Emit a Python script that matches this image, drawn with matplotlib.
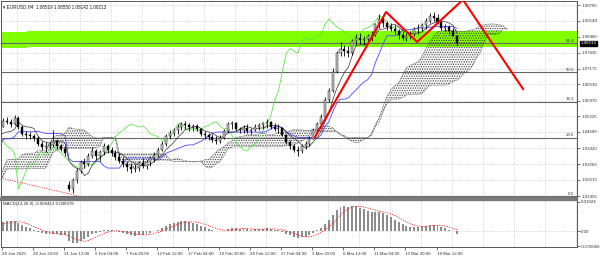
import numpy as np
import pandas as pd
import matplotlib
matplotlib.use('Agg')
import matplotlib.pyplot as plt
from matplotlib.patches import Rectangle

plt.rcParams['font.family'] = ['Liberation Sans', 'DejaVu Sans']
plt.rcParams['hatch.linewidth'] = 0.6

# EURUSD, candles merged two H4 bars each (8h); history before the window first
pre_high = [1.0395, 1.0380, 1.0365, 1.0365, 1.0350, 1.0330, 1.0325, 1.0320, 1.0315,
            1.0310, 1.0305, 1.0255, 1.0240, 1.0225, 1.0250, 1.0265, 1.0300, 1.0315,
            1.0315, 1.0320, 1.0310, 1.0300, 1.0310, 1.0305, 1.0300, 1.0290, 1.0285,
            1.0360, 1.0435, 1.0425, 1.0420, 1.0410, 1.0435, 1.0440, 1.0430, 1.0415,
            1.0420, 1.0425, 1.0420, 1.0490]
pre_low = [1.0345, 1.0340, 1.0335, 1.0330, 1.0310, 1.0300, 1.0295, 1.0290, 1.0295,
           1.0285, 1.0215, 1.0225, 1.0200, 1.0178, 1.0195, 1.0235, 1.0250, 1.0285,
           1.0280, 1.0270, 1.0280, 1.0275, 1.0280, 1.0285, 1.0265, 1.0255, 1.0260,
           1.0270, 1.0340, 1.0390, 1.0340, 1.0350, 1.0395, 1.0410, 1.0395, 1.0395,
           1.0390, 1.0395, 1.0400, 1.0410]
pre_close = [1.0360, 1.0350, 1.0355, 1.0345, 1.0320, 1.0315, 1.0305, 1.0310, 1.0300,
             1.0295, 1.0230, 1.0244, 1.0210, 1.0200, 1.0245, 1.0255, 1.0290, 1.0308,
             1.0290, 1.0300, 1.0290, 1.0290, 1.0295, 1.0300, 1.0275, 1.0270, 1.0272,
             1.0350, 1.0410, 1.0415, 1.0360, 1.0400, 1.0430, 1.0420, 1.0405, 1.0410,
             1.0405, 1.0410, 1.0414, 1.0480]

highs = [1.0515, 1.0520, 1.0510, 1.0528, 1.0525, 1.0485, 1.0460, 1.0458, 1.0450, 1.0440,
         1.0420, 1.0415, 1.0418, 1.0465, 1.0430, 1.0410, 1.0400, 1.0255, 1.0270, 1.0310,
         1.0345, 1.0350, 1.0370, 1.0395, 1.0390, 1.0385, 1.0412, 1.0410, 1.0395, 1.0385,
         1.0370, 1.0355, 1.0340, 1.0330, 1.0325, 1.0340, 1.0350, 1.0345, 1.0360, 1.0375,
         1.0395, 1.0420, 1.0450, 1.0465, 1.0475, 1.0490, 1.0500, 1.0505, 1.0495, 1.0490,
         1.0492, 1.0475, 1.0460, 1.0455, 1.0450, 1.0440, 1.0445, 1.0470, 1.0500, 1.0505,
         1.0500, 1.0480, 1.0485, 1.0490, 1.0475, 1.0490, 1.0495, 1.0500, 1.0510, 1.0505,
         1.0495, 1.0490, 1.0480, 1.0450, 1.0425, 1.0410, 1.0400, 1.0410, 1.0420, 1.0440,
         1.0475, 1.0500, 1.0530, 1.0600, 1.0640, 1.0720, 1.0790, 1.0825, 1.0815, 1.0810,
         1.0840, 1.0860, 1.0865, 1.0850, 1.0860, 1.0870, 1.0905, 1.0940, 1.0935, 1.0915,
         1.0905, 1.0895, 1.0880, 1.0870, 1.0865, 1.0870, 1.0890, 1.0900, 1.0905, 1.0925,
         1.0945, 1.0950, 1.0940, 1.0915, 1.0900, 1.0895, 1.0885, 1.08550]
lows = [1.0478, 1.0490, 1.0480, 1.0485, 1.0470, 1.0440, 1.0430, 1.0428, 1.0420, 1.0400,
        1.0385, 1.0375, 1.0388, 1.0395, 1.0390, 1.0380, 1.0360, 1.0215, 1.0208, 1.0250,
        1.0290, 1.0310, 1.0320, 1.0350, 1.0345, 1.0340, 1.0365, 1.0370, 1.0360, 1.0345,
        1.0330, 1.0315, 1.0300, 1.0290, 1.0292, 1.0300, 1.0310, 1.0305, 1.0320, 1.0335,
        1.0355, 1.0380, 1.0400, 1.0430, 1.0440, 1.0450, 1.0465, 1.0470, 1.0460, 1.0460,
        1.0462, 1.0440, 1.0430, 1.0425, 1.0415, 1.0410, 1.0412, 1.0430, 1.0455, 1.0470,
        1.0460, 1.0455, 1.0455, 1.0455, 1.0450, 1.0460, 1.0465, 1.0470, 1.0475, 1.0470,
        1.0460, 1.0455, 1.0440, 1.0410, 1.0390, 1.0375, 1.0360, 1.0370, 1.0390, 1.0400,
        1.0430, 1.0460, 1.0480, 1.0515, 1.0580, 1.0620, 1.0700, 1.0770, 1.0770, 1.0765,
        1.0775, 1.0815, 1.0820, 1.0815, 1.0820, 1.0830, 1.0850, 1.0885, 1.0890, 1.0875,
        1.0870, 1.0860, 1.0840, 1.0835, 1.0830, 1.0840, 1.0850, 1.0860, 1.0870, 1.0880,
        1.0905, 1.0915, 1.0900, 1.0875, 1.0870, 1.0860, 1.0850, 1.08142]
closes = [1.0505, 1.0498, 1.0490, 1.0515, 1.0478, 1.0450, 1.0445, 1.0440, 1.0432, 1.0410,
          1.0395, 1.0400, 1.0405, 1.0420, 1.0400, 1.0390, 1.0370, 1.0225, 1.0260, 1.0300,
          1.0335, 1.0325, 1.0360, 1.0380, 1.0360, 1.0375, 1.0400, 1.0385, 1.0370, 1.0355,
          1.0340, 1.0325, 1.0315, 1.0305, 1.0310, 1.0330, 1.0320, 1.0335, 1.0350, 1.0365,
          1.0385, 1.0410, 1.0440, 1.0455, 1.0465, 1.0480, 1.0490, 1.0485, 1.0478, 1.0482,
          1.0470, 1.0450, 1.0445, 1.0438, 1.0425, 1.0420, 1.0435, 1.0460, 1.0490, 1.0495,
          1.0470, 1.0465, 1.0475, 1.0462, 1.0468, 1.0480, 1.0485, 1.0495, 1.0500, 1.0480,
          1.0470, 1.0475, 1.0445, 1.0415, 1.0400, 1.0385, 1.0380, 1.0400, 1.0410, 1.0430,
          1.0465, 1.0490, 1.0520, 1.0590, 1.0625, 1.0705, 1.0780, 1.0800, 1.0790, 1.0780,
          1.0830, 1.0845, 1.0835, 1.0840, 1.0850, 1.0855, 1.0900, 1.0920, 1.0905, 1.0890,
          1.0880, 1.0870, 1.0855, 1.0845, 1.0850, 1.0860, 1.0880, 1.0885, 1.0895, 1.0915,
          1.0935, 1.0925, 1.0910, 1.0885, 1.0890, 1.0870, 1.08519, 1.08213]
gap_bar = 17          # Monday 3 Feb opened with a gap
gap_open = 1.0240

# axis texts
price_ticks = [1.09785, 1.09140, 1.08480, 1.07835, 1.07175, 1.06530, 1.05870,
               1.05225, 1.04580, 1.03920, 1.03260, 1.02615, 1.01955]
time_labels = ['24 Jan 2025', '28 Jan 20:00', '31 Jan 12:00', '5 Feb 04:00', '7 Feb 20:00',
               '12 Feb 12:00', '17 Feb 04:00', '19 Feb 20:00', '24 Feb 12:00', '27 Feb 04:00',
               '3 Mar 20:00', '6 Mar 12:00', '11 Mar 04:00', '13 Mar 20:00', '18 Mar 12:00']
macd_ticks = [0.01024, 0.0, -0.005066]
macd_tick_labels = ['0.01024', '0.00', '-0.005066']

# drawn objects (x in H4 bars from the first visible bar)
fib_low, fib_high = 1.01955, 1.12085
fib_levels = [0.0, 0.236, 0.382, 0.5, 0.618]
zone_x = [[-1, 12.8], [12.8, 300]]
zone_lo = [1.0804, 1.0808]
zone_hi = [1.0869, 1.0874]
zigzag_x = [161.3, 198.0, 214.0, 237.6, 268.6]
zigzag_p = [1.0437, 1.0950, 1.0827, 1.1000, 1.0634]
trend_x = [-1, 39.2]
trend_p = [1.0270, 1.0196]

# ---- build series
H = pd.Series(pre_high + highs)
L = pd.Series(pre_low + lows)
C = pd.Series(pre_close + closes)
n_pre = len(pre_high)
O = C.shift(1).fillna(C.iloc[0])
O.iloc[n_pre + gap_bar] = gap_open
xb = (np.arange(len(C)) - n_pre) * 2 + 0.5

tenkan = (H.rolling(5, min_periods=1).max() + L.rolling(5, min_periods=1).min()) / 2
kijun = (H.rolling(13, min_periods=1).max() + L.rolling(13, min_periods=1).min()) / 2
span_a = (tenkan + kijun) / 2
span_b = (H.rolling(26, min_periods=1).max() + L.rolling(26, min_periods=1).min()) / 2

ema_f = C.ewm(com=2.75, adjust=False).mean()
ema_s = C.ewm(com=6.25, adjust=False).mean()
macd = ema_f - ema_s
signal = macd.rolling(5, min_periods=1).mean()

# ---- figure
fig = plt.figure(figsize=(6, 2.58), dpi=100)
ax = fig.add_axes([1 / 600, 1 - 197 / 258, 576 / 600, 196 / 258])
am = fig.add_axes([1 / 600, 1 - 247 / 258, 576 / 600, 48 / 258])
xlim = (-0.5, 296.4)
grid_x = [8 + 16 * k for k in range(19)]
for a in (ax, am):
    a.set_xlim(*xlim)
    for s in a.spines.values():
        s.set_color('#555555')
        s.set_linewidth(0.7)
    for gx in grid_x:
        a.axvline(gx, color='#c8c8c8', lw=0.5, ls=(0, (1.5, 1.5)), zorder=0)

ax.set_ylim(1.01914, 1.09950)
for p in price_ticks:
    ax.axhline(p, color='#c8c8c8', lw=0.5, ls=(0, (1.5, 1.5)), zorder=0)

# green zone
for (x0, x1), lo, hi in zip(zone_x, zone_lo, zone_hi):
    ax.add_patch(Rectangle((x0, lo), x1 - x0, hi - lo, color='#80ff00', lw=0, zorder=1))

# fibonacci levels
for lv in fib_levels:
    p = fib_low + lv * (fib_high - fib_low)
    ax.axhline(p, color='#666666', lw=0.8, zorder=2)
    ax.text(xlim[1] - 1.5, p + 0.0002, f'{lv * 100:.1f}', ha='right', va='bottom',
            fontsize=3.2, color='#333333', zorder=6)

# ichimoku cloud
xs = xb + 26
ax.fill_between(xs, span_a, span_b, facecolor='none', edgecolor='#404040',
                hatch='.......', lw=0, zorder=2)
ax.plot(xs, span_a, color='#404040', lw=0.5, ls=(0, (1, 1)), zorder=2)
ax.plot(xs, span_b, color='#404040', lw=0.5, ls=(0, (1, 1)), zorder=2)
ax.plot(xb - 26, C, color='#5ee84a', lw=0.6, zorder=3)
ax.plot(xb, kijun, color='#4a4aff', lw=0.6, zorder=3)
ax.plot(xb, tenkan, color='#303030', lw=0.5, zorder=3)

# candles
up = C >= O
ax.vlines(xb, L, H, color='black', lw=0.6, zorder=4)
ax.bar(xb, (C - O).abs().clip(lower=0.00006), bottom=np.minimum(O, C), width=1.05,
       color=np.where(up, '#c8c8c8', 'black'), edgecolor='black', lw=0.3, zorder=5)

ax.plot(trend_x, trend_p, color='#ff3030', lw=0.6, ls=(0, (1.5, 1.5)), zorder=4)
ax.plot(zigzag_x, zigzag_p, color='#ff0000', lw=1.5, zorder=6, clip_on=True)

ax.yaxis.tick_right()
ax.set_yticks(price_ticks)
ax.set_yticklabels([f'{p:.5f}' for p in price_ticks])
ax.tick_params(axis='y', labelsize=3.2, length=2, width=0.5, pad=1, colors='#333333')
ax.tick_params(axis='x', bottom=False, labelbottom=False)

last = closes[-1]
ax.text(1.006, last, f'{last:.5f}', transform=ax.get_yaxis_transform(), fontsize=3.2,
        color='white', va='center', ha='left',
        bbox=dict(boxstyle='square,pad=0.15', fc='black', ec='black'), zorder=10)
ax.text(0.004, 0.985, '\u25be EURUSD,H4  1.08519 1.08550 1.08142 1.08213', transform=ax.transAxes,
        fontsize=3.3, va='top', ha='left', color='#222222')

# MACD window
vis = xb > -2
am.bar(xb[vis], macd[vis], width=1.0, color='#8c8c8c', lw=0, zorder=2)
am.plot(xb[vis], signal[vis], color='#ff2020', lw=0.6, ls=(0, (1.5, 1.5)), zorder=3)
am.axhline(0, color='#c8c8c8', lw=0.5, ls=(0, (1.5, 1.5)), zorder=0)
am.set_ylim(-0.0054, 0.0112)
am.yaxis.tick_right()
am.set_yticks(macd_ticks)
am.set_yticklabels(macd_tick_labels)
am.tick_params(axis='y', labelsize=3.2, length=2, width=0.5, pad=1, colors='#333333')
am.set_xticks([16 * k for k in range(len(time_labels))])
am.set_xticklabels(time_labels, ha='left')
am.tick_params(axis='x', labelsize=3.2, length=2, width=0.5, pad=1.5, colors='#333333')
am.text(0.004, 0.93, 'MACD(12,26,9) -0.000412 0.000978', transform=am.transAxes,
        fontsize=3.2, va='top', ha='left', color='#222222')

fig.patches.append(Rectangle((0, 1 - 199.5 / 258), 577 / 600, 2.5 / 258,
                             transform=fig.transFigure, color='#7a7a7a', zorder=5))

fig.savefig('out.png', dpi=100, facecolor='white')
